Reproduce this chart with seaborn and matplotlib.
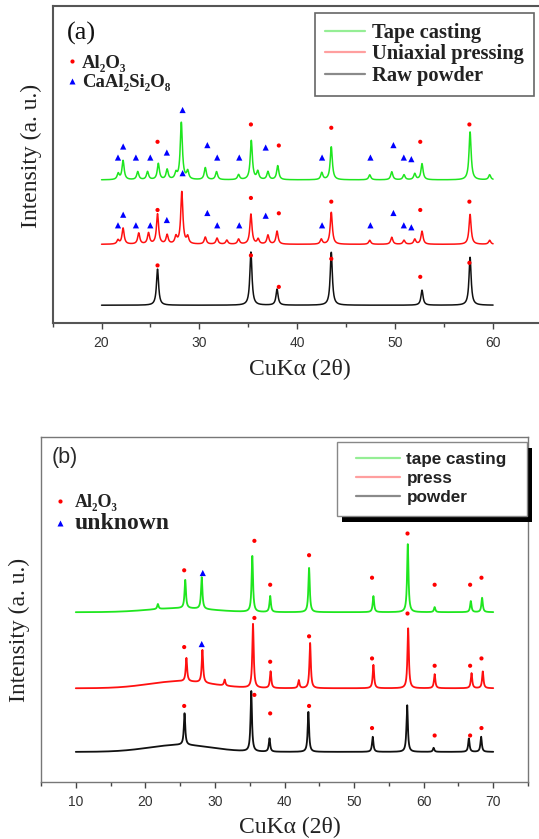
'''XRD patterns of the alumina samples, panels (a) and (b)'''
import numpy as np
import pandas as pd
import matplotlib
matplotlib.use('Agg')
import matplotlib.pyplot as plt
import seaborn as sns
from matplotlib.lines import Line2D
from matplotlib.patches import Rectangle
from matplotlib.transforms import IdentityTransform
from matplotlib.ticker import MultipleLocator
from matplotlib.font_manager import FontProperties

# ---------------- panel (a) : 2theta 20-60 ----------------
a_black_base = 18
a_black_pos = [25.72, 35.26, 37.93, 43.47, 52.74, 57.65]
a_black_h = [36, 53, 16, 53, 15, 48]

a_red_base = 78.7
a_red_pos = [21.68, 22.2, 23.8, 24.8, 25.72, 26.7, 27.6, 28.2, 28.8, 30.6, 31.8, 32.8, 34.0,
             35.26, 36.0, 37.0, 37.93, 42.45, 43.47, 47.4, 49.65, 50.9, 52.0, 52.74, 57.65, 59.65]
a_red_h = [4, 16, 11, 11, 30, 9, 7, 52, 7, 7, 6, 4, 5,
           30, 5, 9, 13, 5, 32, 4, 7, 4, 5, 13, 30, 4]

a_green_base = 143
a_green_pos = [21.7, 22.2, 23.7, 24.7, 25.8, 26.7, 27.6, 28.15, 28.8, 30.6, 31.75, 34.0, 35.3,
               35.96, 37.0, 38.0, 42.5, 43.47, 47.4, 49.65, 50.9, 52.0, 52.74, 57.65, 59.65]
a_green_h = [6, 19, 8, 8, 16, 10, 6, 57, 8, 12, 8, 5, 39,
             8, 8, 14, 7, 33, 5, 8, 5, 6, 16, 48, 5]

# phase markers (a)
a_dot_x = [25.72, 35.26, 38.11, 43.47, 52.56, 57.58]
a_black_dot_y = [57.7, 67.7, 36.3, 64.3, 46.3, 60.3]
a_red_dot_y = [113, 125, 109.7, 121.3, 113, 121.3]
a_green_dot_y = [181, 198.3, 177.3, 195, 181, 198.3]
a_tri_x = [21.68, 22.21, 23.51, 24.98, 26.67, 30.81, 31.82, 34.07, 36.77, 42.53, 47.47, 49.82, 50.88, 51.65]
a_red_tri_y = [97.7, 108.3, 97.7, 97.7, 103, 110, 97.7, 97.7, 107.3, 97.7, 97.7, 110, 97.7, 95.7]
a_green_tri_y = [165.3, 176.3, 165.3, 165.3, 170.3, 177.7, 165.3, 165.3, 175.3, 165.3, 165.3, 177.7, 165.3, 163.7]
a_green_tri_extra_x = [28.28, 28.28]
a_green_tri_extra_y = [212.7, 149.7]

# ---------------- panel (b) : 2theta 10-70 ----------------
b_hump_center, b_hump_sigma = 25, 4.5
b_black_base, b_black_hump = 30, 7
b_black_pos = [25.63, 35.22, 37.84, 43.43, 52.68, 57.63, 61.43, 66.5, 68.26]
b_black_h = [31.7, 60, 13.3, 40, 15, 46.7, 4, 13.3, 15]

b_red_base, b_red_hump = 93.3, 7
b_red_pos = [25.9, 28.2, 31.4, 35.47, 38.0, 42.05, 43.68, 52.78, 57.77, 61.58, 66.88, 68.5]
b_red_h = [23.3, 32.7, 6, 64, 16.7, 8, 45, 23.3, 60, 14, 15, 16.7]

b_green_base, b_green_hump = 169, 4
b_green_pos = [21.8, 25.73, 28.1, 35.37, 37.94, 43.53, 52.78, 57.72, 61.58, 66.78, 68.4]
b_green_h = [5, 28.3, 31.7, 56, 16, 44.3, 16, 67.7, 5, 11, 14.3]

# phase markers (b)
b_black_dot_x = [25.58, 35.67, 37.94, 43.53, 52.58, 61.58, 66.68, 68.31]
b_black_dot_y = [75.7, 86.7, 68.3, 75.7, 53.7, 46.3, 46.3, 53.7]
b_red_dot_x = [25.58, 35.67, 37.94, 43.53, 52.58, 57.68, 61.58, 66.68, 68.31]
b_red_dot_y = [134.3, 163.3, 119.7, 145, 123, 167.7, 115.7, 115.7, 123]
b_green_dot_x = [25.58, 35.67, 37.94, 43.53, 52.58, 57.68, 61.58, 66.68, 68.31]
b_green_dot_y = [210.7, 240, 196.3, 225.7, 203.3, 247.3, 196.3, 196.3, 203.3]
b_tri_x = [28.1, 28.25]
b_tri_y = [137.3, 208]

serif = ['Liberation Serif', 'DejaVu Serif']
sans = ['Liberation Sans', 'DejaVu Sans']


def trace(grid, base, pos, height, hwhm, hump=0):
    # baseline + lorentzian peaks (+ broad amorphous hump)
    y = base + hump * np.exp(-0.5 * ((grid - b_hump_center) / b_hump_sigma) ** 2)
    for p, h in zip(pos, height):
        y = y + h / (1 + ((grid - p) / hwhm) ** 2)
    return y


grid_a = np.arange(20, 60.001, 0.02)
grid_b = np.arange(10, 70.001, 0.02)

df_a = pd.concat([
    pd.DataFrame({'two_theta': grid_a, 'intensity': trace(grid_a, a_black_base, a_black_pos, a_black_h, 0.13), 'sample': 'Raw powder'}),
    pd.DataFrame({'two_theta': grid_a, 'intensity': trace(grid_a, a_red_base, a_red_pos, a_red_h, 0.13), 'sample': 'Uniaxial pressing'}),
    pd.DataFrame({'two_theta': grid_a, 'intensity': trace(grid_a, a_green_base, a_green_pos, a_green_h, 0.13), 'sample': 'Tape casting'}),
])
df_b = pd.concat([
    pd.DataFrame({'two_theta': grid_b, 'intensity': trace(grid_b, b_black_base, b_black_pos, b_black_h, 0.12, b_black_hump), 'sample': 'powder'}),
    pd.DataFrame({'two_theta': grid_b, 'intensity': trace(grid_b, b_red_base, b_red_pos, b_red_h, 0.12, b_red_hump), 'sample': 'press'}),
    pd.DataFrame({'two_theta': grid_b, 'intensity': trace(grid_b, b_green_base, b_green_pos, b_green_h, 0.12, b_green_hump), 'sample': 'tape casting'}),
])

mk_a = pd.concat([
    pd.DataFrame({'two_theta': a_dot_x * 3, 'intensity': a_black_dot_y + a_red_dot_y + a_green_dot_y, 'phase': 'Al2O3'}),
    pd.DataFrame({'two_theta': a_tri_x * 2 + a_green_tri_extra_x,
                  'intensity': a_red_tri_y + a_green_tri_y + a_green_tri_extra_y, 'phase': 'CaAl2Si2O8'}),
])
mk_b = pd.concat([
    pd.DataFrame({'two_theta': b_black_dot_x + b_red_dot_x + b_green_dot_x,
                  'intensity': b_black_dot_y + b_red_dot_y + b_green_dot_y, 'phase': 'Al2O3'}),
    pd.DataFrame({'two_theta': b_tri_x, 'intensity': b_tri_y, 'phase': 'unknown'}),
])

sns.set_style('ticks')
plt.rcParams['font.family'] = serif

fig = plt.figure(figsize=(5.39, 8.39), dpi=100)
ax_a = fig.add_axes([0.0976, 0.6147, 0.908, 0.3776])
ax_b = fig.add_axes([0.0761, 0.0679, 0.9035, 0.4112])

pal_a = {'Tape casting': '#1fe61f', 'Uniaxial pressing': '#ff1010', 'Raw powder': '#111111'}
pal_b = {'tape casting': '#1fe61f', 'press': '#ff1010', 'powder': '#111111'}

sns.lineplot(data=df_a, x='two_theta', y='intensity', hue='sample', palette=pal_a,
             estimator=None, sort=False, lw=1.1, legend=False, ax=ax_a)
sns.lineplot(data=df_b, x='two_theta', y='intensity', hue='sample', palette=pal_b,
             estimator=None, sort=False, lw=1.3, legend=False, ax=ax_b)

sns.scatterplot(data=mk_a, x='two_theta', y='intensity', hue='phase', style='phase', size='phase',
                palette={'Al2O3': 'red', 'CaAl2Si2O8': 'blue'}, markers={'Al2O3': 'o', 'CaAl2Si2O8': '^'},
                sizes={'Al2O3': 9, 'CaAl2Si2O8': 20}, linewidth=0, legend=False, ax=ax_a, zorder=3)
sns.scatterplot(data=mk_b, x='two_theta', y='intensity', hue='phase', style='phase', size='phase',
                palette={'Al2O3': 'red', 'unknown': 'blue'}, markers={'Al2O3': 'o', 'unknown': '^'},
                sizes={'Al2O3': 9, 'unknown': 20}, linewidth=0, legend=False, ax=ax_b, zorder=3)

#axes styling
for ax, lo, hi, top, spc, slw in [(ax_a, 15, 65, 316, '#555555', 1.5), (ax_b, 5, 75, 343.3, '#777777', 1.0)]:
    ax.set_xlim(lo, hi)
    ax.set_ylim(0, top)
    ax.set_yticks([])
    ax.xaxis.set_major_locator(MultipleLocator(10))
    ax.xaxis.set_minor_locator(MultipleLocator(5))
    ax.tick_params(axis='x', which='major', direction='out', length=4, width=1, colors='#444444',
                   labelcolor='#333333', labelsize=10, labelfontfamily='Liberation Sans', pad=5)
    ax.tick_params(axis='x', which='minor', direction='out', length=3, width=1, colors='#444444')
    for s in ax.spines.values():
        s.set_visible(True)
        s.set_color(spc)
        s.set_linewidth(slw)
    ax.set_xlabel('CuKα (2θ)', fontsize=17, family=serif, color='#222222')
    ax.set_ylabel('Intensity (a. u.)', fontsize=17, family=serif, color='#222222')

ax_a.xaxis.set_label_coords(0.505, -0.113)
ax_a.yaxis.set_label_coords(-0.0217, 0.528)
ax_b.xaxis.set_label_coords(0.510, -0.100)
ax_b.yaxis.set_label_coords(-0.0226, 0.44)

ax_a.text(0.0294, 0.914, '(a)', transform=ax_a.transAxes, fontsize=19, family=serif,
          va='center', ha='left', color='#111111')
ax_b.text(0.0226, 0.940, '(b)', transform=ax_b.transAxes, fontsize=15.5, family=sans,
          va='center', ha='left', color='#2a2a2a')

#legends panel (a)
h_a = [Line2D([0], [0], color=c, lw=1.6) for c in ['#95ee95', '#ff9f9f', '#8a8a8a']]
leg_a = ax_a.legend(h_a, ['Tape casting', 'Uniaxial pressing', 'Raw powder'], loc='upper right',
                    bbox_to_anchor=(0.9837, 0.9795), borderaxespad=0, fancybox=False, framealpha=1,
                    edgecolor='#666666', prop=FontProperties(family=serif, weight='bold', size=14.8),
                    handlelength=1.95, handletextpad=0.34, labelspacing=0.06, borderpad=0.5)
leg_a.get_frame().set_linewidth(1.2)
for t in leg_a.get_texts():
    t.set_color('#222222')
ax_a.add_artist(leg_a)

m_a = [Line2D([], [], ls='none', marker='o', ms=3, color='red', mec='none'),
       Line2D([], [], ls='none', marker='^', ms=4.5, color='blue', mec='none')]
leg_ma = ax_a.legend(m_a, ['Al₂O₃', 'CaAl₂Si₂O₈'], loc='upper left', bbox_to_anchor=(0.0274, 0.848),
                     borderaxespad=0, borderpad=0, frameon=False, handlelength=0.65, handletextpad=0.2,
                     labelspacing=0.12, prop=FontProperties(family=serif, weight='bold', size=13.5))
for t in leg_ma.get_texts():
    t.set_color('#222222')

#legends panel (b) - frame and black shadow are drawn by hand after layout
h_b = [Line2D([0], [0], color=c, lw=1.6) for c in ['#95ee95', '#ff9f9f', '#8a8a8a']]
leg_b = ax_b.legend(h_b, ['tape casting', 'press', 'powder'], loc='upper right',
                    bbox_to_anchor=(0.9562, 0.9575), borderaxespad=0, frameon=False,
                    prop=FontProperties(family=sans, weight='bold', size=12.3),
                    handlelength=2.6, handletextpad=0.35, labelspacing=0.24, borderpad=0)
for t in leg_b.get_texts():
    t.set_color('#222222')
ax_b.add_artist(leg_b)

m_b = [Line2D([], [], ls='none', marker='o', ms=3, color='red', mec='none'),
       Line2D([], [], ls='none', marker='^', ms=4.5, color='blue', mec='none')]
leg_mb = ax_b.legend(m_b, ['Al₂O₃', 'unknown'], loc='upper left', bbox_to_anchor=(0.0257, 0.834),
                     borderaxespad=0, borderpad=0, frameon=False, handlelength=0.7, handletextpad=0.49,
                     labelspacing=0.12, prop=FontProperties(family=serif, weight='bold', size=13))
leg_mb.get_texts()[1].set_fontsize(17)
for t in leg_mb.get_texts():
    t.set_color('#222222')

fig.canvas.draw()
bb = leg_b.get_window_extent()
x0, y0 = bb.x0 - 19, bb.y0 - 11
w, h = bb.width + 39, bb.height + 21
frame_b = Rectangle((x0, y0), w, h, transform=IdentityTransform(), facecolor='white',
                    edgecolor='#888888', lw=1.0, zorder=4.95, clip_on=False)
shadow_b = Rectangle((x0 + 5, y0 - 6), w, h, transform=IdentityTransform(),
                     facecolor='black', edgecolor='none', zorder=4.9, clip_on=False)
ax_b.add_artist(shadow_b)
ax_b.add_artist(frame_b)

fig.savefig('out.png', dpi=100)
